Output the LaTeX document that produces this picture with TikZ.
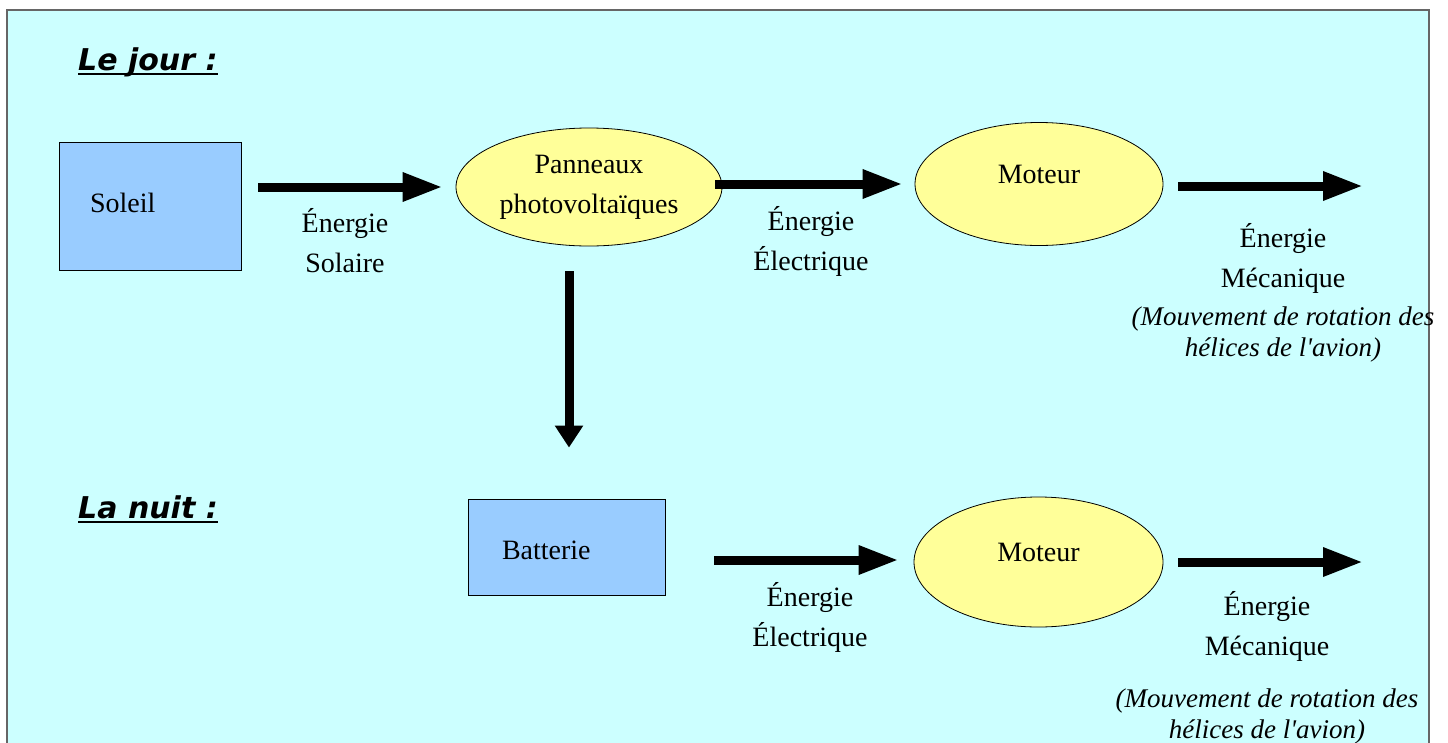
\documentclass[tikz,border=0pt]{standalone}
\usepackage{fontspec}
\setmainfont{Liberation Serif}
\newfontfamily\headfont{DejaVu Sans}
\usetikzlibrary{arrows.meta,shapes.geometric}
\definecolor{bgcyan}{HTML}{CCFFFF}
\definecolor{boxblue}{HTML}{99CCFF}
\definecolor{ellyellow}{HTML}{FFFF99}
\definecolor{framegray}{HTML}{666666}
\tikzset{
  txt/.style={font=\fontsize{28pt}{40pt}\selectfont, inner sep=0pt},
  itxt/.style={font=\fontsize{27pt}{31pt}\selectfont\itshape, inner sep=0pt},
  boxnode/.style={draw=black, line width=0.8pt, fill=boxblue, align=left, inner ysep=0pt,
    font=\fontsize{28pt}{40pt}\selectfont},
  ellnode/.style={ellipse, draw=black, line width=0.8pt, fill=ellyellow, inner sep=0pt,
    align=center, font=\fontsize{28pt}{40pt}\selectfont},
  flow/.style={line width=9pt, -{Triangle[length=40pt,width=27pt]}},
  vflow/.style={line width=9pt, -{Triangle[length=22pt,width=27pt]}},
  heading/.style={font=\fontsize{30pt}{36pt}\selectfont\headfont\bfseries\itshape, inner sep=0pt, anchor=base west}
}
\begin{document}
\begin{tikzpicture}[x=1pt,y=-1pt]
\useasboundingbox (0,0) rectangle (1448,742);
\begin{scope}
\clip (0,0) rectangle (1448,742);
\draw[draw=framegray, line width=1.2pt, fill=bgcyan] (7,10) rectangle (1429,760);
\draw[draw=framegray, line width=2.5pt] (1429,10) -- (1429,760);
\end{scope}

% headings
\node[heading] (jour) at (78,70) {Le jour :};
\draw[line width=2pt] ([yshift=-4pt]jour.base west) -- ([yshift=-4pt]jour.base east);
\node[heading] (nuit) at (78,518) {La nuit :};
\draw[line width=2pt] ([yshift=-4pt]nuit.base west) -- ([yshift=-4pt]nuit.base east);

% nodes
\node[boxnode, minimum width=182pt, minimum height=128pt, text width=120pt, inner xsep=31pt,
      text height=14pt, text depth=2pt] (soleil) at (150,206) {Soleil};
\node[ellnode, minimum width=266pt, minimum height=118pt] (pan) at (589,187) {Panneaux\\photovoltaïques};
\node[ellnode, minimum width=248pt, minimum height=123pt, text height=19pt, text depth=21pt] (mot1) at (1039,184) {Moteur};
\node[boxnode, minimum width=197pt, minimum height=96pt, text width=129pt, inner xsep=34pt,
      text height=26pt, text depth=2pt] (bat) at (566.5,547) {Batterie};
\node[ellnode, minimum width=249pt, minimum height=130pt, text height=19pt, text depth=21pt] (mot2) at (1038.5,562) {Moteur};

\coordinate (end1) at (1363,186);
\coordinate (end2) at (1363,562);

% connectors
\draw[flow] ([xshift=17pt,yshift=19pt]soleil.east) -- ([xshift=-13pt]pan.west);
\draw[flow] ([xshift=-7pt,yshift=3pt]pan.east) -- ([xshift=-12pt]mot1.west);
\draw[flow] ([xshift=15pt,yshift=-2pt]mot1.east) -- (end1);
\draw[vflow] ([xshift=-20pt,yshift=-25pt]pan.south) -- ([xshift=2.5pt,yshift=51pt]bat.north);
\draw[flow] ([xshift=49pt,yshift=-13pt]bat.east) -- ([xshift=-15pt,yshift=2pt]mot2.west);
\draw[flow] ([xshift=15pt]mot2.east) -- (end2);

% labels (anchor=base is the baseline of the last line)
\node[txt, align=center, anchor=base] (l1) at (345,272) {Énergie\\Solaire};
\node[txt, align=center, anchor=base] (l2) at (811,270) {Énergie\\Électrique};
\node[txt, align=center, anchor=base] (l3) at (1283,287) {Énergie\\Mécanique};
\node[itxt, align=center, anchor=base] (l3i) at (1283,356) {(Mouvement de rotation des\\hélices de l\textquotesingle avion)};
\node[txt, align=center, anchor=base] (l4) at (810,646) {Énergie\\Électrique};
\node[txt, align=center, anchor=base] (l5) at (1267,655) {Énergie\\Mécanique};
\node[itxt, align=center, anchor=base] (l5i) at (1267,738) {(Mouvement de rotation des\\hélices de l\textquotesingle avion)};
\end{tikzpicture}
\end{document}
